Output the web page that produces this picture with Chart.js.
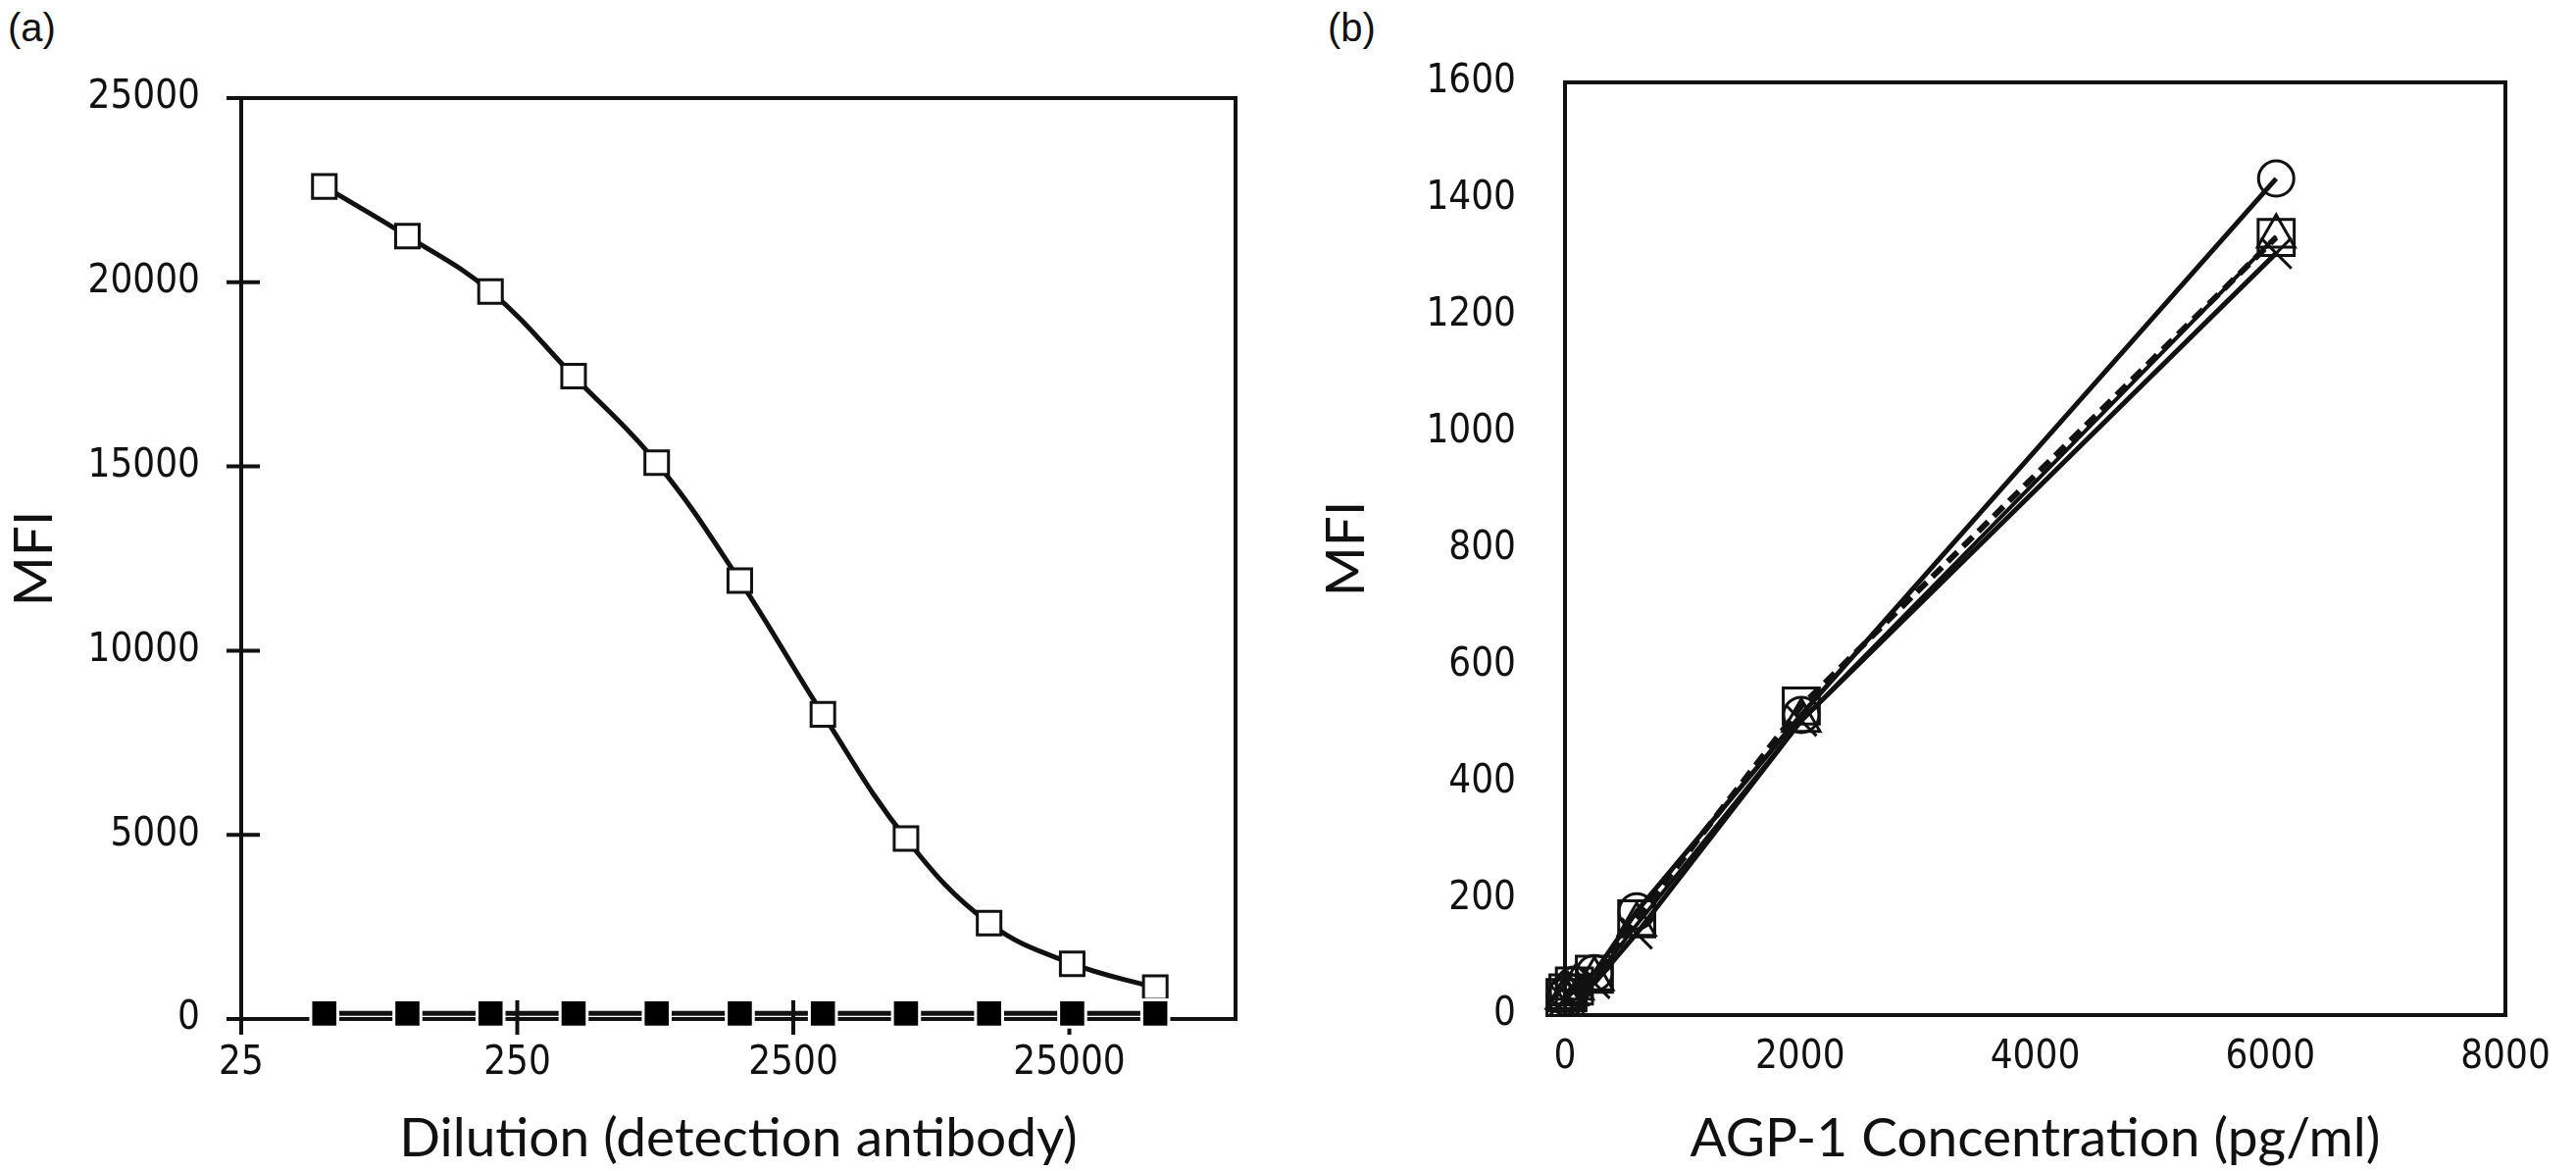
<!DOCTYPE html>
<html>
<head>
<meta charset="utf-8">
<script src="https://cdn.jsdelivr.net/npm/chart.js@4.4.1/dist/chart.umd.min.js"></script>
<style>
  html, body { margin: 0; padding: 0; background: #fff; }
  body { width: 2627px; height: 1194px; position: relative; overflow: hidden; }
  .panel { position: absolute; top: 0; height: 1194px; }
  #wrapA { left: 0; width: 1310px; }
  #wrapB { left: 1310px; width: 1317px; }
  .tag { position: absolute; top: 6px; font: 40px "Liberation Sans", sans-serif; color: #111; }
</style>
</head>
<body>
<div class="tag" style="left:8px">(a)</div>
<div class="tag" style="left:1354px">(b)</div>
<div class="panel" id="wrapA"><canvas id="chartA"></canvas></div>
<div class="panel" id="wrapB"><canvas id="chartB"></canvas></div>
<script>
// (a) dilution of the detection antibody
const dilutions = [50, 100, 200, 400, 800, 1600, 3200, 6400, 12800, 25600, 51200];
const mfiSample = [22600, 21250, 19750, 17450, 15100, 11900, 8270, 4900, 2600, 1500, 850];
const mfiBlank = [150, 150, 150, 150, 150, 150, 150, 150, 150, 150, 150];
const dilutionTicks = [25, 250, 2500, 25000];

// (b) AGP-1 standard curves
const agpConc = [0, 25, 80, 250, 610, 2010, 6050];
const mfiRun1 = [32, 40, 52, 72, 178, 515, 1435];   // circles
const mfiRun2 = [30, 38, 50, 70, 165, 530, 1334];   // squares
const mfiRun3 = [30, 36, 46, 62, 155, 505, 1336];   // triangles
const mfiRun4 = [26, 33, 42, 55, 140, 505, 1307];   // crosses

const tickFont = { family: '"DejaVu Sans Condensed", Lato, sans-serif', size: 40 };
const titleFont = { family: 'Lato, "Open Sans", sans-serif', size: 55 };
const ink = '#111';

// frame around the plot area (+ the crossing tick marks of panel a)
const frame = {
  id: 'frame',
  beforeDatasetsDraw(chart, args, opts) {
    const { ctx, chartArea: a } = chart;
    ctx.save();
    ctx.strokeStyle = ink;
    ctx.lineWidth = opts.width || 4;
    ctx.strokeRect(a.left, a.top, a.right - a.left, a.bottom - a.top);
    if (opts.crossTicks) {
      const xs = chart.scales.x, ys = chart.scales.y;
      ctx.beginPath();
      ys.ticks.forEach(t => {
        const py = ys.getPixelForValue(t.value);
        ctx.moveTo(a.left - 15, py);
        ctx.lineTo(a.left + 19, py);
      });
      xs.ticks.forEach(t => {
        const px = xs.getPixelForValue(t.value);
        ctx.moveTo(px, a.bottom - 19);
        ctx.lineTo(px, a.bottom + 16);
      });
      ctx.stroke();
    }
    ctx.restore();
  }
};

function pts(xs, ys) {
  return xs.map((x, i) => ({ x: x, y: ys[i] }));
}

new Chart(document.getElementById('chartA'), {
  type: 'scatter',
  plugins: [frame],
  data: {
    datasets: [
      {
        data: pts(dilutions, mfiBlank),
        showLine: true,
        borderColor: ink,
        borderWidth: 5,
        pointStyle: 'rect',
        pointRadius: 19.5,
        pointBackgroundColor: '#000',
        pointBorderColor: '#fff',
        pointBorderWidth: 3,
        clip: false
      },
      {
        data: pts(dilutions, mfiSample),
        showLine: true,
        tension: 0.4,
        borderColor: ink,
        borderWidth: 5,
        pointStyle: 'rect',
        pointRadius: 17,
        pointBackgroundColor: '#fff',
        pointBorderColor: ink,
        pointBorderWidth: 3,
        clip: false
      }
    ]
  },
  options: {
    responsive: true,
    maintainAspectRatio: false,
    animation: false,
    events: [],
    layout: { padding: { left: 0, top: 100, right: 50, bottom: 0 } },
    plugins: { legend: { display: false }, tooltip: { enabled: false }, frame: { width: 4, crossTicks: true } },
    scales: {
      x: {
        type: 'logarithmic',
        min: 25,
        max: 100000,
        afterBuildTicks: s => { s.ticks = dilutionTicks.map(v => ({ value: v })); },
        afterFit: s => { s.height = 155; },
        grid: { display: false, drawTicks: false },
        border: { display: false },
        ticks: { font: tickFont, color: ink, padding: 22, maxRotation: 0, autoSkip: false, callback: v => String(v) },
        title: { display: true, text: 'Dilution (detection antibody)', font: titleFont, color: ink, padding: { top: 0, bottom: 0 } }
      },
      y: {
        min: 0,
        max: 25000,
        afterFit: s => { s.width = 246; },
        grid: { display: false, drawTicks: false },
        border: { display: false },
        ticks: { stepSize: 5000, font: tickFont, color: ink, padding: 42, callback: v => String(v) },
        title: { display: true, text: 'MFI', font: titleFont, color: ink, padding: { top: 2, bottom: 0 } }
      }
    }
  }
});

function run(data, style, radius, width, dash) {
  return {
    data: pts(agpConc, data),
    showLine: true,
    borderColor: ink,
    borderWidth: width,
    borderDash: dash,
    pointStyle: style,
    pointRadius: radius,
    pointBackgroundColor: 'rgba(0,0,0,0)',
    pointBorderColor: ink,
    pointBorderWidth: 3,
    clip: false
  };
}

new Chart(document.getElementById('chartB'), {
  type: 'scatter',
  plugins: [frame],
  data: {
    datasets: [
      run(mfiRun1, 'circle', 18, 5, []),
      run(mfiRun2, 'rect', 26, 6, [14, 8]),
      run(mfiRun3, 'triangle', 22, 4, []),
      run(mfiRun4, 'crossRot', 22, 5, [])
    ]
  },
  options: {
    responsive: true,
    maintainAspectRatio: false,
    animation: false,
    events: [],
    layout: { padding: { left: 0, top: 84, right: 72, bottom: 0 } },
    plugins: { legend: { display: false }, tooltip: { enabled: false }, frame: { width: 4 } },
    scales: {
      x: {
        min: 0,
        max: 8000,
        afterFit: s => { s.height = 159; },
        grid: { display: false, drawTicks: false },
        border: { display: false },
        ticks: { stepSize: 2000, font: tickFont, color: ink, padding: 20, maxRotation: 0, callback: v => String(v) },
        title: { display: true, text: 'AGP-1 Concentration (pg/ml)', font: titleFont, color: ink, padding: { top: 0, bottom: 0 } }
      },
      y: {
        min: 0,
        max: 1600,
        afterFit: s => { s.width = 286; },
        grid: { display: false, drawTicks: false },
        border: { display: false },
        ticks: { stepSize: 200, font: tickFont, color: ink, padding: 50, callback: v => String(v) },
        title: { display: true, text: 'MFI', font: titleFont, color: ink, padding: { top: 30, bottom: 0 } }
      }
    }
  }
});
</script>
</body>
</html>
